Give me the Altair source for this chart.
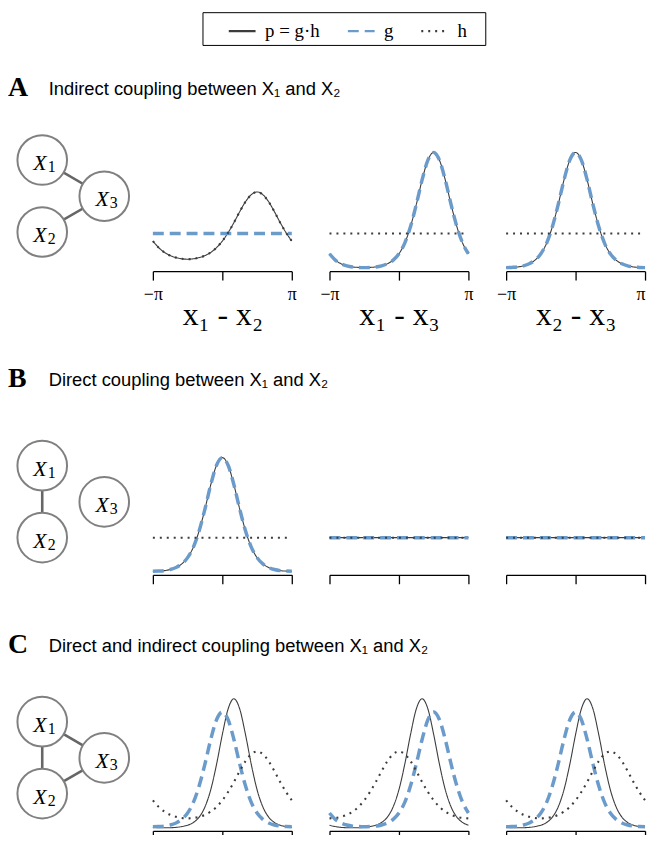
import altair as alt
import pandas as pd

# ---------------- data ----------------
SERIES = ["p = g·h", "g", "h"]
X_DEG = [-180, -165, -150, -135, -120, -105, -90, -75, -60, -45, -30, -15, 0,
         15, 30, 45, 60, 75, 90, 105, 120, 135, 150, 165, 180]
TICK_VALUES = [-180, 0, 180]

FLAT = [0.159] * 25
PEAK1_AT0 = [0.046, 0.048, 0.053, 0.062, 0.076, 0.097, 0.126, 0.163, 0.207, 0.255, 0.299, 0.330, 0.342,
             0.330, 0.299, 0.255, 0.207, 0.163, 0.126, 0.097, 0.076, 0.062, 0.053, 0.048, 0.046]
PEAK1_AT90 = [0.126, 0.097, 0.076, 0.062, 0.053, 0.048, 0.046, 0.048, 0.053, 0.062, 0.076, 0.097, 0.126,
              0.163, 0.207, 0.255, 0.299, 0.330, 0.342, 0.330, 0.299, 0.255, 0.207, 0.163, 0.126]
PEAK2_AT0 = [0.009, 0.010, 0.012, 0.017, 0.026, 0.042, 0.070, 0.117, 0.190, 0.287, 0.395, 0.482, 0.516,
             0.482, 0.395, 0.287, 0.190, 0.117, 0.070, 0.042, 0.026, 0.017, 0.012, 0.010, 0.009]
PEAK2_AT90 = [0.070, 0.042, 0.026, 0.017, 0.012, 0.010, 0.009, 0.010, 0.012, 0.017, 0.026, 0.042, 0.070,
              0.117, 0.190, 0.287, 0.395, 0.482, 0.516, 0.482, 0.395, 0.287, 0.190, 0.117, 0.070]
PEAK3_AT30 = [0.0065, 0.005, 0.0047, 0.005, 0.0065, 0.010, 0.016, 0.028, 0.052, 0.097, 0.173, 0.285, 0.417,
              0.530, 0.575, 0.530, 0.417, 0.285, 0.173, 0.097, 0.052, 0.028, 0.016, 0.010, 0.0065]
PEAK3_AT60 = [0.016, 0.010, 0.0065, 0.005, 0.0047, 0.005, 0.0065, 0.010, 0.016, 0.028, 0.052, 0.097, 0.173,
              0.285, 0.417, 0.530, 0.575, 0.530, 0.417, 0.285, 0.173, 0.097, 0.052, 0.028, 0.016]

# (p, g, h) for each panel of each row
PANELS = {
    "A": [(PEAK1_AT90, FLAT, PEAK1_AT90), (PEAK2_AT90, PEAK2_AT90, FLAT), (PEAK2_AT0, PEAK2_AT0, FLAT)],
    "B": [(PEAK2_AT0, PEAK2_AT0, FLAT), (FLAT, FLAT, FLAT), (FLAT, FLAT, FLAT)],
    "C": [(PEAK3_AT30, PEAK2_AT0, PEAK1_AT90), (PEAK3_AT60, PEAK2_AT90, PEAK1_AT0),
          (PEAK3_AT30, PEAK2_AT0, PEAK1_AT90)],
}
X_TITLES = ["x₁ - x₂", "x₁ - x₃", "x₂ - x₃"]
HEADERS = {
    "A": "Indirect coupling between X₁ and X₂",
    "B": "Direct coupling between X₁ and X₂",
    "C": "Direct and indirect coupling between X₁ and X₂",
}
NODE_IDS = ["1", "2", "3"]
EDGES = {"A": [("1", "3"), ("2", "3")], "B": [("1", "2")], "C": [("1", "2"), ("1", "3"), ("2", "3")]}

# ---------------- layout / style ----------------
SERIF = "Liberation Serif, DejaVu Serif, serif"
SANS = "Liberation Sans, Arial, DejaVu Sans, sans-serif"
DARK = "#3c3c3c"
BLUE = "#6b9bcb"
ROW_H = {"A": 261, "B": 306, "C": 258}
YDOM = {"A": [-0.0066, 1.1332], "B": [-0.0066, 1.3474], "C": [-0.0088, 1.1228]}
HEAD_Y = {"A": 83, "B": 116, "C": 78}
NODE_TOP = {"A": 149, "B": 196, "C": 148}
NODE_X = {"1": 34.5, "2": 34.5, "3": 97}
NODE_DY = {"1": 0, "2": 72.5, "3": 36.5}
DIAG_W = 108
PANEL_W = 140
COL_GAP = 38
WIDTHS = [1.1, 3.5, 2.1]
DASHES = [[1, 0], [11, 6], [2, 5]]

LEGEND = alt.Legend(
    title="\u2800", titleOrient="left", titleFontSize=10, titleColor="white", titlePadding=14,
    orient="none", legendX=196, legendY=0, direction="horizontal",
    symbolType="stroke", symbolSize=729, symbolStrokeWidth=2.2,
    labelFont=SERIF, labelFontSize=19, labelColor="black", labelOffset=8,
    labelExpr="datum.label == 'h' ? 'h\u2800' : datum.label",
    columnPadding=23, padding=4, strokeColor="black", fillColor="white",
    cornerRadius=0,
)


def make_panel(row, i):
    p, g, h = PANELS[row][i]
    df = pd.DataFrame({
        "x": X_DEG * 3,
        "y": list(p) + list(g) + list(h),
        "series": [SERIES[0]] * 25 + [SERIES[1]] * 25 + [SERIES[2]] * 25,
    })
    if row == "A":
        extra = {}
        if i == 2:
            extra["labelAlign"] = {"condition": {"test": "datum.value == 180", "value": "right"},
                                   "value": "center"}
        axis = alt.Axis(
            values=TICK_VALUES,
            labelExpr="datum.value == 0 ? '' : (datum.value < 0 ? '\u2212\u03c0' : '\u03c0')",
            domainColor="black", domainWidth=1.3, tickColor="black", tickWidth=1.3, tickSize=9,
            labelFont=SERIF, labelFontSize=18, labelColor="black", labelBaseline="alphabetic",
            labelPadding=20, labelFlush=False, labelOverlap=False, grid=False,
            title=X_TITLES[i], titleFont=SERIF, titleFontSize=32, titleFontWeight="normal",
            titleColor="black", titleBaseline="alphabetic", titleY=54, **extra,
        )
    else:
        axis = alt.Axis(
            values=TICK_VALUES, labels=False, title=None, grid=False,
            domainColor="black", domainWidth=1.3, tickColor="black", tickWidth=1.3, tickSize=9,
        )
    enc = dict(
        x=alt.X("x:Q", scale=alt.Scale(domain=[-180, 180], nice=False, zero=False), axis=axis),
        y=alt.Y("y:Q", scale=alt.Scale(domain=YDOM[row], nice=False, zero=False), axis=None),
        color=alt.Color("series:N", scale=alt.Scale(domain=SERIES, range=[DARK, BLUE, DARK]), legend=LEGEND),
        strokeDash=alt.StrokeDash("series:N", scale=alt.Scale(domain=SERIES, range=DASHES), legend=LEGEND),
    )
    layers = []
    for s, w in zip(SERIES, WIDTHS):
        layers.append(
            alt.Chart(df)
            .transform_filter(alt.FieldEqualPredicate(field="series", equal=s))
            .mark_line(strokeWidth=w, interpolate="monotone", strokeCap="butt")
            .encode(**enc)
        )
    return alt.layer(*layers).properties(width=PANEL_W, height=ROW_H[row])


def make_diagram(row):
    top = NODE_TOP[row]
    nodes = pd.DataFrame({
        "id": NODE_IDS,
        "x": [NODE_X[k] for k in NODE_IDS],
        "y": [top + NODE_DY[k] for k in NODE_IDS],
    })
    edges = pd.DataFrame({
        "x": [NODE_X[a] for a, b in EDGES[row]],
        "y": [top + NODE_DY[a] for a, b in EDGES[row]],
        "x2": [NODE_X[b] for a, b in EDGES[row]],
        "y2": [top + NODE_DY[b] for a, b in EDGES[row]],
    })
    xs = alt.Scale(domain=[0, DIAG_W], nice=False, zero=False)
    ys = alt.Scale(domain=[0, ROW_H[row]], reverse=True, nice=False, zero=False)
    X = alt.X("x:Q", scale=xs, axis=None)
    Y = alt.Y("y:Q", scale=ys, axis=None)
    edge_l = alt.Chart(edges).mark_rule(color="#666666", strokeWidth=2.6).encode(
        x=X, y=Y, x2="x2:Q", y2="y2:Q")
    node_l = alt.Chart(nodes).mark_point(
        shape="circle", size=2500, filled=True, fill="white", stroke="#808080",
        strokeWidth=2, opacity=1, fillOpacity=1, strokeOpacity=1).encode(x=X, y=Y)
    xlab = alt.Chart(nodes).mark_text(
        text="X", font=SERIF, fontStyle="italic", fontSize=22, align="right",
        baseline="alphabetic", dx=4.5, dy=10, color="black").encode(x=X, y=Y)
    sub = alt.Chart(nodes).mark_text(
        font=SERIF, fontSize=16, align="left", baseline="alphabetic", dx=5.5, dy=12,
        color="black").encode(x=X, y=Y, text="id:N")
    head_df = pd.DataFrame({"letter": [row], "text": [HEADERS[row]]})
    letter = alt.Chart(head_df).mark_text(
        font=SERIF, fontWeight="bold", fontSize=28, align="left", baseline="alphabetic",
        color="black").encode(text="letter:N", x=alt.value(0), y=alt.value(HEAD_Y[row] + 1))
    sentence = alt.Chart(head_df).mark_text(
        font=SANS, fontSize=18.5, align="left", baseline="alphabetic",
        color="black").encode(text="text:N", x=alt.value(41), y=alt.value(HEAD_Y[row]))
    return alt.layer(edge_l, node_l, xlab, sub, letter, sentence).properties(
        width=DIAG_W, height=ROW_H[row])


items = []
for row in ["A", "B", "C"]:
    items.append(make_diagram(row))
    for i in range(3):
        items.append(make_panel(row, i))

chart = alt.concat(
    *items, columns=4, spacing={"row": 0, "column": COL_GAP}, bounds="flush", align="each"
).properties(
    padding={"left": 0, "top": 0, "right": -2, "bottom": -9}
).configure_view(stroke=None)

chart.save("out.html", embed_options={"renderer": "svg", "actions": False})
